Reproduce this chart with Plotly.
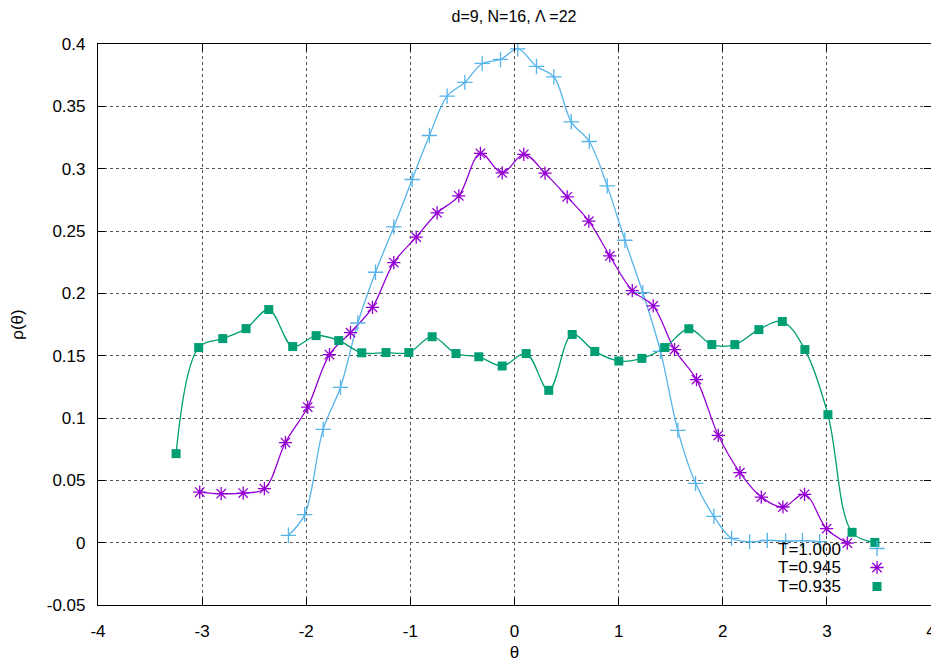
import plotly.graph_objects as go

title_text = "d=9, N=16, Λ =22"
series_labels = ["T=1.000", "T=0.945", "T=0.935"]
series_colors = ["#56b4e9", "#9400d3", "#009e73"]

theta_T1000 = [-2.171, -2.015, -1.838, -1.671, -1.505, -1.335, -1.159, -0.983, -0.817,
               -0.647, -0.477, -0.310, -0.134, 0.032, 0.211, 0.378, 0.545, 0.718, 0.890,
               1.060, 1.232, 1.402, 1.569, 1.739, 1.915, 2.085, 2.258, 2.428, 2.604,
               2.765, 2.931]
rho_T1000 = [0.0059, 0.0225, 0.0909, 0.1246, 0.1762, 0.2169, 0.2533, 0.2913, 0.3266,
             0.3582, 0.3692, 0.3844, 0.3876, 0.3961, 0.3820, 0.3737, 0.3376, 0.3218, 0.2862,
             0.2426, 0.2006, 0.1535, 0.0901, 0.0476, 0.0211, 0.0035, 0.0008, 0.0018, 0.0013,
             0.0016, 0.0008]

theta_T0945 = [-3.023, -2.817, -2.606, -2.402, -2.200, -1.986, -1.777, -1.575, -1.364,
               -1.159, -0.944, -0.743, -0.535, -0.327, -0.118, 0.089, 0.293, 0.506, 0.714,
               0.915, 1.131, 1.332, 1.537, 1.748, 1.957, 2.165, 2.370, 2.578, 2.786, 2.997,
               3.196]
rho_T0945 = [0.0406, 0.0393, 0.0398, 0.0433, 0.0803, 0.1088, 0.1509, 0.1685, 0.1888,
             0.2247, 0.2451, 0.2645, 0.2782, 0.3122, 0.2966, 0.3115, 0.2964, 0.2774, 0.2579,
             0.2300, 0.2022, 0.1899, 0.1549, 0.1308, 0.0861, 0.0562, 0.0366, 0.0286, 0.0388,
             0.0112, -0.0003]

theta_T0935 = [-3.250, -3.033, -2.802, -2.578, -2.360, -2.130, -1.905, -1.688, -1.467,
               -1.234, -1.015, -0.791, -0.562, -0.343, -0.118, 0.112, 0.329, 0.554, 0.771,
               1.002, 1.223, 1.444, 1.674, 1.895, 2.116, 2.347, 2.572, 2.789, 3.010, 3.242,
               3.461]
rho_T0935 = [0.0714, 0.1565, 0.1637, 0.1717, 0.1870, 0.1573, 0.1661, 0.1621, 0.1523,
             0.1525, 0.1525, 0.1652, 0.1517, 0.1491, 0.1417, 0.1517, 0.1222, 0.1670, 0.1534,
             0.1457, 0.1478, 0.1565, 0.1716, 0.1589, 0.1589, 0.1709, 0.1774, 0.1549, 0.1027,
             0.0083, 0.0002]

x_tickvals = [-4, -3, -2, -1, 0, 1, 2, 3, 4]
x_ticktext = ["-4", "-3", "-2", "-1", "0", "1", "2", "3", "4"]
y_tickvals = [-0.05, 0, 0.05, 0.1, 0.15, 0.2, 0.25, 0.3, 0.35, 0.4]
y_ticktext = ["-0.05", "0", "0.05", "0.1", "0.15", "0.2", "0.25", "0.3", "0.35", "0.4"]

FONT = "Liberation Sans, Arial, sans-serif"
FS = 17

# The page body has an 8px margin, so the figure is sized to fit the window.
OFF = 8
W, H = 939 - OFF, 663 - OFF
PL, PR, PT, PB = 98 - OFF, 931 - OFF, 44 - OFF, 605 - OFF   # plot area in figure pixels

series = [
    (theta_T1000, rho_T1000, dict(symbol="cross-thin-open", size=11, line=dict(width=1.3, color=series_colors[0]), color=series_colors[0])),
    (theta_T0945, rho_T0945, dict(symbol="asterisk-open", size=11, line=dict(width=1.3, color=series_colors[1]), color=series_colors[1])),
    (theta_T0935, rho_T0935, dict(symbol="square", size=9, color=series_colors[2], line=dict(width=0))),
]

fig = go.Figure()
for (xs, ys, mk), col in zip(series, series_colors):
    fig.add_trace(go.Scatter(x=xs, y=ys, mode="lines", line=dict(color=col, width=1.3, shape="spline", smoothing=1.0),
                             showlegend=False, hoverinfo="skip"))
for (xs, ys, mk), lab in zip(series, series_labels):
    fig.add_trace(go.Scatter(x=xs, y=ys, mode="markers", marker=mk, name=" ", showlegend=True,
                             hovertemplate=lab + "<br>θ=%{x}<br>ρ=%{y}<extra></extra>"))

pw, ph = PR - PL, PB - PT
# legend labels (gnuplot style: text to the left of the key sample)
for i, lab in enumerate(series_labels):
    fig.add_annotation(text=lab, xref="paper", yref="paper", x=(843 - 98) / pw,
                       y=(605 - (549 + 18.5 * i)) / ph, xanchor="right", yanchor="middle",
                       showarrow=False, font=dict(family=FONT, size=FS, color="black"))

axis_common = dict(showline=True, linecolor="black", linewidth=1.2, mirror="ticks",
                   ticks="inside", ticklen=7, tickcolor="black", tickwidth=1,
                   showgrid=True, gridcolor="#555555", griddash="dot", gridwidth=1,
                   zeroline=False, automargin=False,
                   tickfont=dict(family=FONT, size=FS, color="black"))

fig.update_layout(
    width=W, height=H,
    margin=dict(l=PL, r=W - PR, t=PT, b=H - PB, autoexpand=False),
    paper_bgcolor="white", plot_bgcolor="white",
    title=dict(text=title_text, x=(514 - OFF) / W, xref="container", xanchor="center",
               y=1.0, yref="container", yanchor="top", pad=dict(t=3, b=0),
               font=dict(family=FONT, size=FS - 1, color="black")),
    xaxis=dict(range=[-4, 4], tickvals=x_tickvals, ticktext=x_ticktext,
               title=dict(text="θ", standoff=6, font=dict(family=FONT, size=FS, color="black")),
               ticklabelstandoff=10, **axis_common),
    yaxis=dict(range=[-0.05, 0.4], tickvals=y_tickvals, ticktext=y_ticktext,
               title=dict(text="ρ(θ)", standoff=18, font=dict(family=FONT, size=FS, color="black")),
               ticklabelstandoff=8, **axis_common),
    legend=dict(x=(857 - 98) / pw, y=(605 - 534) / ph, xanchor="left", yanchor="top",
                bgcolor="rgba(0,0,0,0)", borderwidth=0, tracegroupgap=0,
                font=dict(family=FONT, size=12, color="black"), itemwidth=30),
    font=dict(family=FONT, size=FS, color="black"),
)

fig.write_html("out.html")
